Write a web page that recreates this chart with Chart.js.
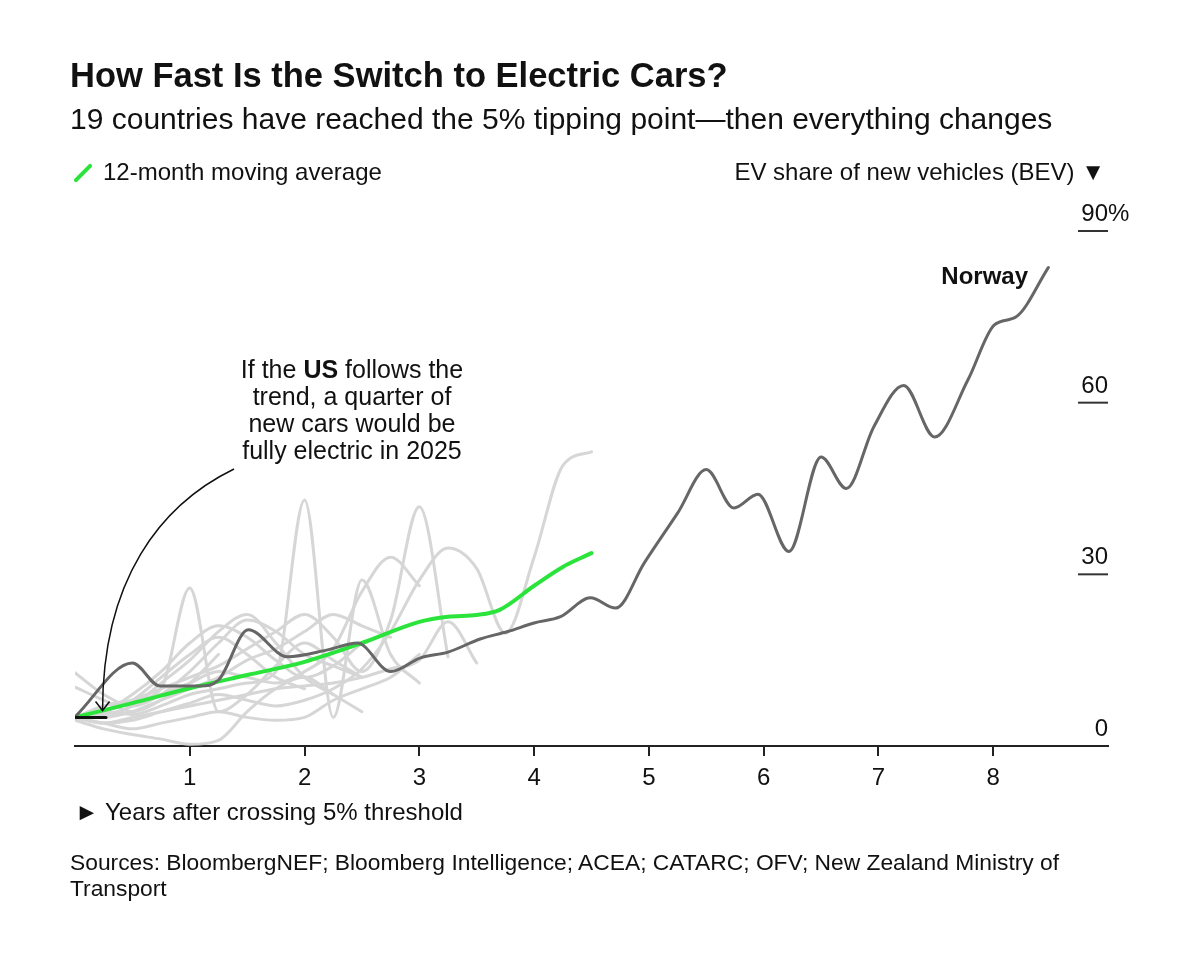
<!DOCTYPE html>
<html>
<head>
<meta charset="utf-8">
<script src="https://cdn.jsdelivr.net/npm/chart.js@4.4.0/dist/chart.umd.min.js"></script>
<style>
  body { margin: 0; background: #fff; font-family: "Liberation Sans", Arial, sans-serif; color: #111; }
  #wrap { position: relative; width: 1200px; height: 960px; overflow: hidden; }
  #wrap canvas { position: absolute; left: 0; top: 0; }
  .t { position: absolute; white-space: nowrap; line-height: 1; }
  #title { left: 70px; top: 58px; font-size: 34.5px; font-weight: bold; }
  #subtitle { left: 70px; top: 104px; font-size: 30px; }
  #legend { left: 103px; top: 160px; font-size: 24px; }
  #legendMark { position: absolute; left: 71px; top: 171px; width: 24px; height: 4px; background: #2be43b; border-radius: 2px; transform: rotate(-45deg); }
  #yTitle { right: 95px; top: 160px; font-size: 24px; }
  #xTitle { left: 75px; top: 800px; font-size: 24px; }
  #sources { left: 70px; top: 849px; font-size: 22.8px; line-height: 26px; white-space: normal; width: 1060px; }
  #note { left: 202px; top: 356px; width: 300px; font-size: 25px; line-height: 27px; text-align: center; }
  #norway { left: 900px; width: 128px; top: 264px; font-size: 24px; font-weight: bold; text-align: right; }
</style>
</head>
<body>
<div id="wrap">
  <canvas id="evChart" width="1200" height="960"></canvas>
  <div class="t" id="title">How Fast Is the Switch to Electric Cars?</div>
  <div class="t" id="subtitle">19 countries have reached the 5% tipping point—then everything changes</div>
  <div id="legendMark"></div>
  <div class="t" id="legend">12-month moving average</div>
  <div class="t" id="yTitle">EV share of new vehicles (BEV) ▼</div>
  <div class="t" id="note">If the <b>US</b> follows the<br>trend, a quarter of<br>new cars would be<br>fully electric in 2025</div>
  <div class="t" id="norway">Norway</div>
  <div class="t" id="xTitle">► Years after crossing 5% threshold</div>
  <div class="t" id="sources">Sources: BloombergNEF; Bloomberg Intelligence; ACEA; CATARC; OFV; New Zealand Ministry of Transport</div>
</div>
<script>
// Axis setup
const xTicks = [1, 2, 3, 4, 5, 6, 7, 8];
const yTicks = [0, 30, 60, 90];
const step = 0.25; // grey country series are sampled every quarter-year

// Norway (years after crossing 5%, BEV share %)
const norwayYears = [0, 0.5, 0.74, 1.09, 1.25, 1.51, 1.85, 2.2, 2.46, 2.75, 3.01, 3.25, 3.53, 3.77, 4.0, 4.23, 4.49, 4.71, 4.96, 5.25, 5.5, 5.74, 5.95, 6.22, 6.5, 6.72, 6.96, 7.22, 7.49, 7.78, 8.01, 8.2, 8.48];
const norwayShare = [5.1, 14.5, 10.5, 10.5, 11.5, 20.3, 15.6, 16.8, 18, 13, 15.4, 16.4, 18.7, 20, 21.5, 22.6, 25.9, 24.1, 32, 40.7, 48.3, 41.6, 44, 34, 50.5, 45, 55.8, 63, 54, 64, 73.6, 75, 83.6];

// 12-month moving average trend
const avgYears = [0, 0.5, 1, 1.5, 2, 2.5, 3, 3.25, 3.5, 3.7, 4, 4.25, 4.5];
const avgShare = [5, 7.5, 10.1, 12.4, 14.7, 18, 21.7, 22.6, 22.9, 23.8, 28, 31.3, 33.7];

// US, just past the threshold
const usYears = [0, 0.27];
const usShare = [5, 5];

// other countries (quarterly)
const greyA = [5, 4, 4.5, 6, 7.5, 9, 8, 7, 8, 10, 13.5, 20, 29, 34.6, 31, 19.7, 33, 49, 51.4];
const greyB = [5, 6, 5.5, 7, 9, 10, 11, 13, 43, 5, 29, 16, 11];
const greyC = [5, 6, 8, 10, 12, 14, 17, 20, 23, 19, 13, 22, 41.8, 15.6];
const greyD = [5, 5, 7, 9, 11, 13, 12, 11, 13, 17, 27, 33, 28];
const greyE = [5, 4, 5, 6, 7, 8, 9, 10, 10.5, 11, 12, 13.5, 15, 21.7, 14.5];
const greyF = [5, 7, 8, 10, 27.6, 6, 9, 14, 18, 15, 12];
const greyG = [12.8, 9, 7, 9, 13, 18, 22, 20, 16, 14, 12];
const greyH = [10.3, 8, 6, 8, 11, 16];
const greyI = [4.5, 3, 2, 1.2, 0.3, 1, 6, 10, 12, 9, 6];
const greyJ = [5, 6, 9, 13, 18, 21, 19, 15, 12, 14, 18];
const greyK = [5, 5.5, 7, 11, 15, 20, 23, 18, 12, 9];
const greyL = [5, 4, 3, 4, 5, 6, 5, 4.5, 5, 8, 10, 12, 16];
const greyM = [5, 6, 8, 12, 16, 19, 16, 12, 10];
const greyN = [5, 5, 6, 8, 10, 12, 15, 17, 20, 23, 21, 19];
const greySeries = [greyA, greyB, greyC, greyD, greyE, greyF, greyG, greyH, greyI, greyJ, greyK, greyL, greyM, greyN];

const FONT = '"Liberation Sans", Arial, sans-serif';

function pairs(xs, ys) {
    return xs.map((x, i) => ({ x: x, y: ys[i] }));
}

const datasets = [];
greySeries.forEach(s => {
    datasets.push({
        data: s.map((v, i) => ({ x: i * step, y: v })),
        borderColor: '#d6d6d6',
        borderWidth: 3,
        order: 10
    });
});
datasets.push({ data: pairs(avgYears, avgShare), borderColor: '#2be43b', borderWidth: 4, order: 2 });
datasets.push({ data: pairs(norwayYears, norwayShare), borderColor: '#666666', borderWidth: 3, order: 1 });
datasets.push({ data: pairs(usYears, usShare), borderColor: '#111111', borderWidth: 3, order: 0, cubicInterpolationMode: 'default', tension: 0 });

// y labels above short dashes + the annotation arrow
const overlay = {
    id: 'overlay',
    afterDatasetsDraw(chart) {
        const ctx = chart.ctx;
        const x = chart.scales.x, y = chart.scales.y;
        const right = chart.chartArea.right;
        ctx.save();
        ctx.font = '24px ' + FONT;
        ctx.fillStyle = '#111';
        ctx.textBaseline = 'alphabetic';
        yTicks.forEach(v => {
            const py = y.getPixelForValue(v);
            if (v > 0) {
                ctx.strokeStyle = '#333';
                ctx.lineWidth = 2;
                ctx.beginPath();
                ctx.moveTo(right - 30, py);
                ctx.lineTo(right, py);
                ctx.stroke();
            }
            ctx.textAlign = 'right';
            ctx.fillText(String(v), right, py - 10);
            if (v === 90) {
                ctx.textAlign = 'left';
                ctx.fillText('%', right, py - 10);
            }
        });

        // arrow from the note to the US start
        const tipX = x.getPixelForValue(0.24), tipY = y.getPixelForValue(6.2);
        ctx.strokeStyle = '#111';
        ctx.lineWidth = 1.5;
        ctx.beginPath();
        ctx.moveTo(234, 469);
        ctx.bezierCurveTo(160, 505, tipX, 580, tipX, tipY);
        ctx.stroke();
        ctx.beginPath();
        ctx.moveTo(tipX - 7, tipY - 9);
        ctx.lineTo(tipX, tipY);
        ctx.lineTo(tipX + 7, tipY - 9);
        ctx.stroke();
        ctx.restore();
    }
};

new Chart(document.getElementById('evChart'), {
    type: 'line',
    data: { datasets: datasets },
    options: {
        responsive: false,
        animation: false,
        events: [],
        layout: { padding: { left: 75, right: 92, top: 231, bottom: 170 } },
        elements: {
            point: { radius: 0 },
            line: { cubicInterpolationMode: 'monotone', borderCapStyle: 'round', borderJoinStyle: 'round' }
        },
        plugins: { legend: { display: false }, tooltip: { enabled: false } },
        scales: {
            x: {
                type: 'linear', min: 0, max: 9,
                afterBuildTicks: s => { s.ticks = xTicks.map(v => ({ value: v })); },
                afterFit: s => { s.height = 44; },
                grid: { drawOnChartArea: false, drawTicks: true, tickLength: 10, color: '#222', lineWidth: 2 },
                border: { display: true, color: '#222', width: 2 },
                ticks: { font: { family: FONT, size: 24 }, color: '#111', padding: 8, maxRotation: 0, autoSkip: false }
            },
            y: { type: 'linear', min: 0, max: 90, display: false }
        }
    },
    plugins: [overlay]
});
</script>
</body>
</html>
